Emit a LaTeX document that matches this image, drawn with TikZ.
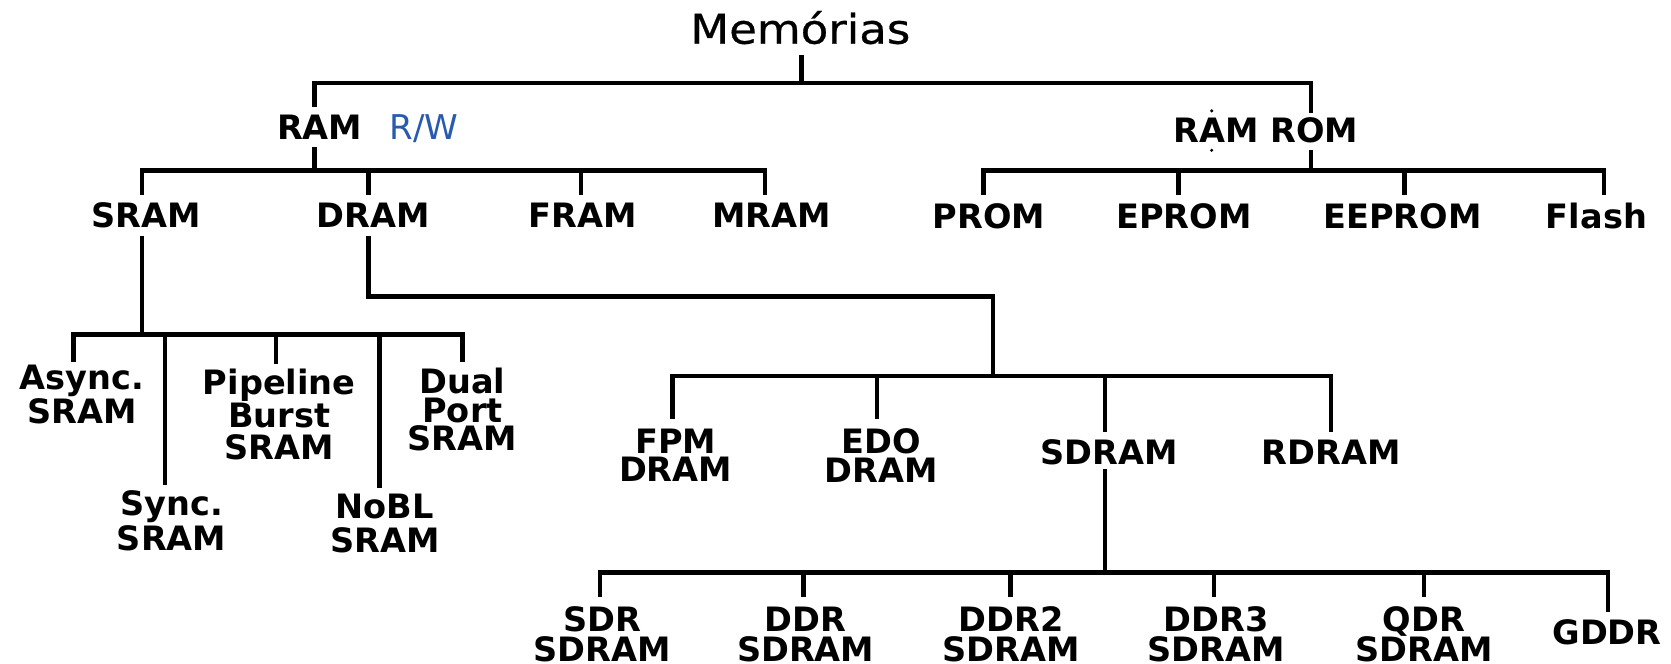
\documentclass[tikz,border=0pt]{standalone}
\usepackage{fontspec}
\setmainfont{DejaVu Sans}
\newfontfamily\memfont{DejaVu Sans}[FakeStretch=1.1,FakeBold=0.6]
\definecolor{rwblue}{RGB}{40,90,175}
\begin{document}
\begin{tikzpicture}[x=0.5pt,y=-0.5pt,
  tree/.style={line width=2.1pt, line join=miter, line cap=butt},
  lbl/.style={inner sep=0pt, align=center, font=\fontsize{15.75pt}{14pt}\selectfont\bfseries},
  lblwide/.style={inner sep=0pt, align=center, font=\fontsize{15.75pt}{16.2pt}\selectfont\bfseries},
  lblmid/.style={inner sep=0pt, align=center, font=\fontsize{15.75pt}{15.3pt}\selectfont\bfseries},
  lblnarrow/.style={inner sep=0pt, align=center, font=\fontsize{15.75pt}{13.4pt}\selectfont\bfseries},
  lblbottom/.style={inner sep=0pt, align=center, font=\fontsize{15.75pt}{14pt}\selectfont\bfseries},
  ]
\useasboundingbox (0,0) rectangle (1568,623);

% ---------- nodes ----------
\node[inner sep=0pt, anchor=base, font=\memfont\fontsize{19.2pt}{23pt}\selectfont] (mem) at (751,41) {Memórias};

\node[lbl, anchor=base] (ram) at (300,131) {RAM};
\node[inner sep=0pt, anchor=base, text=rwblue, font=\fontsize{16pt}{19pt}\selectfont] (rw) at (398,131) {R/W};
\node[lbl, anchor=base] (ramrom) at (1188,134) {RAM ROM};

\node[lbl, anchor=base] (sram)   at (137,213) {SRAM};
\node[lbl, anchor=base] (dram)   at (350,213) {DRAM};
\node[lbl, anchor=base] (fram)   at (547,213) {FRAM};
\node[lbl, anchor=base] (mram)   at (724,213) {MRAM};
\node[lbl, anchor=base] (prom)   at (928,214) {PROM};
\node[lbl, anchor=base] (eprom)  at (1111,214) {EPROM};
\node[lbl, anchor=base] (eeprom) at (1316,214) {EEPROM};
\node[lbl, anchor=base] (flash)  at (1498,214) {Flash};

\node[lblwide, anchor=north] (async) at (77,342) {Async.\\SRAM};
\node[lblwide, anchor=north] (sync)  at (161,460) {Sync.\\SRAM};
\node[lblmid, anchor=north]  (pipe)  at (262,346) {Pipeline\\Burst\\SRAM};
\node[lblwide, anchor=north] (nobl)  at (361,463) {NoBL\\SRAM};
\node[lblnarrow, anchor=north] (dual) at (434,345) {Dual\\Port\\SRAM};

\node[lblnarrow, anchor=north] (fpm) at (634,402) {FPM\\DRAM};
\node[lblnarrow, anchor=north] (edo) at (827,402) {EDO\\DRAM};
\node[lbl, anchor=base] (sdram) at (1041,436) {SDRAM};
\node[lbl, anchor=base] (rdram) at (1249,436) {RDRAM};

\node[lblbottom, anchor=north] (sdr)  at (565,569) {SDR\\SDRAM};
\node[lblbottom, anchor=north] (ddr)  at (756,569) {DDR\\SDRAM};
\node[lblbottom, anchor=north] (ddr2) at (949,569) {DDR2\\SDRAM};
\node[lblbottom, anchor=north] (ddr3) at (1141,569) {DDR3\\SDRAM};
\node[lblbottom, anchor=north] (qdr)  at (1336,569) {QDR\\SDRAM};
\node[lbl, anchor=base] (gddr) at (1508,605) {GDDR};

% small dots near RAM ROM
\fill (1137,104) circle (1.6);
\fill (1137,141) circle (1.6);

% ---------- connector end points ----------
\coordinate (memBot) at (752,52);
\coordinate (memB)   at (752,78);
\coordinate (ramTop) at (295,100);
\coordinate (romTop) at (1230,106);

\coordinate (ramBot) at (295,138);
\coordinate (ramB)   at (295,160);
\coordinate (sramT)  at (133,183);
\coordinate (dramT)  at (346,183);
\coordinate (framT)  at (545,183);
\coordinate (mramT)  at (718,183);

\coordinate (romBot) at (1230,141);
\coordinate (romB)   at (1230,160);
\coordinate (promT)  at (923,183);
\coordinate (epromT) at (1106,183);
\coordinate (eepromT) at (1318,183);
\coordinate (flashT) at (1505,183);

\coordinate (sramBot) at (133,221);
\coordinate (sramB)   at (133,314);
\coordinate (asyncT)  at (69,340);
\coordinate (syncT)   at (155,455);
\coordinate (pipeT)   at (259,342);
\coordinate (noblT)   at (356,458);
\coordinate (dualT)   at (434,340);

\coordinate (dramBot) at (346,221);
\coordinate (dramK)   at (932,278);
\coordinate (dramB)   at (932,353);
\coordinate (fpmT)    at (631,393);
\coordinate (edoT)    at (823,393);
\coordinate (sdramT)  at (1037,405);
\coordinate (rdramT)  at (1249,405);

\coordinate (sdramBot) at (1037,440);
\coordinate (sdramB)   at (1037,537);
\coordinate (sdrT)  at (563,560);
\coordinate (ddrT)  at (754,560);
\coordinate (ddr2T) at (948,560);
\coordinate (ddr3T) at (1139,560);
\coordinate (qdrT)  at (1336,560);
\coordinate (gddrT) at (1509,574);

% ---------- connectors ----------
% Memorias
\draw[tree] (memBot) -- (memB);
\draw[tree] (ramTop) |- (memB) -| (romTop);

% RAM
\draw[tree] (ramBot) -- (ramB);
\draw[tree] (sramT) |- (ramB) -| (mramT);
\draw[tree] (ramB -| dramT) -- (dramT);
\draw[tree] (ramB -| framT) -- (framT);

% ROM
\draw[tree] (romBot) -- (romB);
\draw[tree] (promT) |- (romB) -| (flashT);
\draw[tree] (romB -| epromT) -- (epromT);
\draw[tree] (romB -| eepromT) -- (eepromT);

% SRAM
\draw[tree] (sramBot) -- (sramB);
\draw[tree] (asyncT) |- (sramB) -| (dualT);
\foreach \c in {syncT,pipeT,noblT} \draw[tree] (sramB -| \c) -- (\c);

% DRAM
\draw[tree] (dramBot) |- (dramK) -- (dramB);
\draw[tree] (fpmT) |- (dramB) -| (rdramT);
\foreach \c in {edoT,sdramT} \draw[tree] (dramB -| \c) -- (\c);

% SDRAM
\draw[tree] (sdramBot) -- (sdramB);
\draw[tree] (sdrT) |- (sdramB) -| (gddrT);
\foreach \c in {ddrT,ddr2T,ddr3T,qdrT} \draw[tree] (sdramB -| \c) -- (\c);
\end{tikzpicture}
\end{document}
